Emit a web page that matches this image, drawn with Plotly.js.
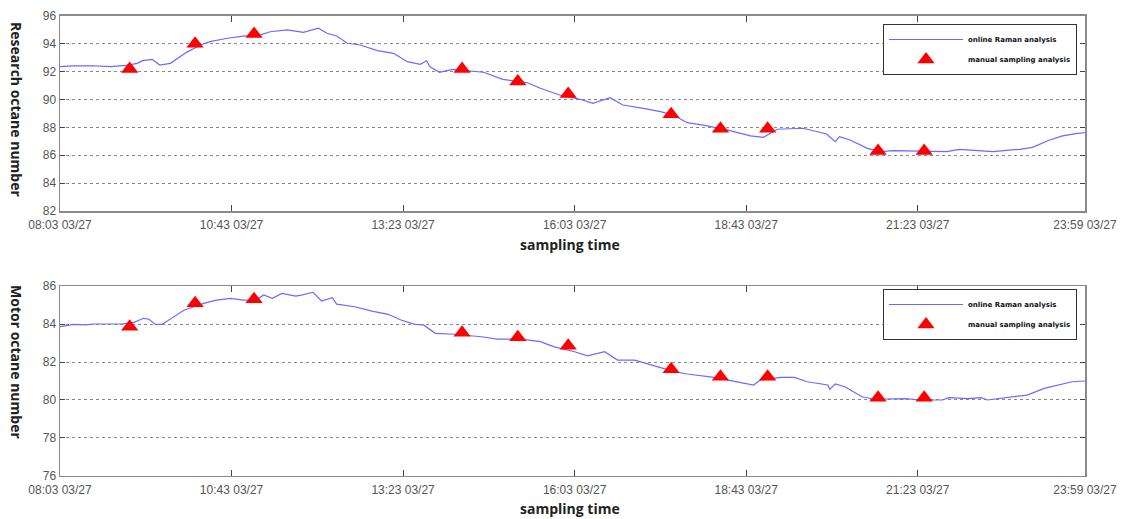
<!DOCTYPE html>
<html>
<head>
<meta charset="utf-8">
<script src="https://cdn.plot.ly/plotly-3.0.1.min.js"></script>
<style>html,body{margin:0;padding:0;background:#fff;}#chart{width:1140px;height:519px;}</style>
</head>
<body>
<div id="chart"></div>
<script>
const DAY = '2012-03-27 ';

// Online Raman analysis – research octane number
const ronTimes = ['08:03','08:15','08:34','08:50','09:05','09:15','09:20','09:29','09:36','09:46','10:01','10:14','10:23','10:39','10:54','11:10','11:19','11:35','11:50','12:04','12:12','12:21','12:31','12:43','12:59','13:14','13:27','13:39','13:45','13:48','13:57','14:09','14:19','14:38','14:56','15:19','15:31','15:49','16:08','16:20','16:36','16:48','17:07','17:23','17:35','17:48','18:03','18:25','18:47','18:59','19:12','19:36','19:58','20:06','20:10','20:20','20:36','20:48','21:00','21:32','21:50','22:02','22:18','22:33','22:58','23:10','23:26','23:38','23:52','23:59'];
const ronOnline = [92.36,92.42,92.43,92.36,92.45,92.60,92.79,92.89,92.48,92.60,93.39,93.92,94.16,94.40,94.56,94.64,94.87,95.00,94.83,95.12,94.76,94.56,94.04,93.92,93.51,93.32,92.72,92.53,92.79,92.36,91.96,92.17,92.10,91.96,91.45,91.21,90.81,90.33,90.02,89.73,90.14,89.61,89.37,89.13,88.89,88.34,88.17,87.82,87.39,87.29,87.87,87.94,87.53,86.98,87.34,87.10,86.50,86.26,86.33,86.26,86.26,86.43,86.36,86.26,86.43,86.57,87.10,87.39,87.58,87.62];

// Online Raman analysis – motor octane number
const monTimes = ['08:03','08:16','08:28','08:34','09:01','09:12','09:21','09:26','09:32','09:38','09:59','10:17','10:29','10:42','10:54','11:06','11:13','11:21','11:30','11:43','11:49','11:59','12:07','12:17','12:21','12:38','12:54','13:09','13:21','13:34','13:42','13:53','14:11','14:36','14:51','15:13','15:31','15:44','16:03','16:15','16:31','16:43','16:59','17:08','17:17','17:36','17:48','18:13','18:38','18:50','18:56','19:15','19:28','19:40','19:59','20:01','20:06','20:15','20:31','20:43','21:11','21:27','21:46','21:52','22:10','22:22','22:28','22:53','23:05','23:21','23:34','23:47','23:59'];
const monOnline = [83.86,83.98,83.95,84.00,84.00,84.09,84.30,84.25,83.98,83.98,84.74,85.09,85.26,85.35,85.26,85.26,85.53,85.35,85.61,85.47,85.53,85.67,85.21,85.39,85.05,84.91,84.68,84.51,84.21,83.98,83.95,83.51,83.46,83.33,83.20,83.20,83.07,82.80,82.54,82.32,82.54,82.10,82.10,81.96,81.79,81.49,81.37,81.19,80.91,80.79,81.05,81.19,81.19,80.96,80.79,80.56,80.84,80.70,80.17,80.04,80.07,80.00,80.00,80.12,80.07,80.12,80.00,80.17,80.26,80.61,80.79,80.96,81.00];

// Manual sampling analysis
const sampleTimes = ['09:08','10:09','11:04','14:18','15:10','15:57','17:33','18:19','19:03','20:46','21:29'];
const ronManual = [92.2,94.0,94.7,92.2,91.3,90.4,88.95,87.9,87.9,86.3,86.3];
const monManual = [83.86,85.09,85.3,83.54,83.3,82.86,81.62,81.23,81.23,80.12,80.12];

// Axis ticks
const xTickTimes = ['08:03','10:43','13:23','16:03','18:43','21:23','23:59'];
const xTickLabels = ['08:03 03/27','10:43 03/27','13:23 03/27','16:03 03/27','18:43 03/27','21:23 03/27','23:59 03/27'];
const ronTicks = [82,84,86,88,90,92,94,96];
const monTicks = [76,78,80,82,84,86];

const toDate = arr => arr.map(t => DAY + t);
const lineColor = '#6a6aff';
const legendNames = ['online Raman analysis', 'manual sampling analysis'];

const traces = [
  {x: toDate(ronTimes), y: ronOnline, type: 'scatter', mode: 'lines', name: legendNames[0],
   line: {color: lineColor, width: 1.2}, xaxis: 'x', yaxis: 'y', legend: 'legend', legendgroup: 'a1'},
  {x: toDate(sampleTimes), y: ronManual, type: 'scatter', mode: 'markers', name: legendNames[1],
   marker: {symbol: 'triangle-up', size: 15, color: '#ff0000'}, xaxis: 'x', yaxis: 'y', legend: 'legend', legendgroup: 'a2'},
  {x: toDate(monTimes), y: monOnline, type: 'scatter', mode: 'lines', name: legendNames[0],
   line: {color: lineColor, width: 1.2}, xaxis: 'x2', yaxis: 'y2', legend: 'legend2', legendgroup: 'b1'},
  {x: toDate(sampleTimes), y: monManual, type: 'scatter', mode: 'markers', name: legendNames[1],
   marker: {symbol: 'triangle-up', size: 15, color: '#ff0000'}, xaxis: 'x2', yaxis: 'y2', legend: 'legend2', legendgroup: 'b2'}
];

const tickFont = {family: 'Liberation Sans, Arial, sans-serif', size: 12, color: '#555'};
const frame = '#8a8a8a';

function xAxis(domainAnchor) {
  return {
    type: 'date', range: [DAY + '08:03', DAY + '23:59'], domain: [0, 1], anchor: domainAnchor,
    tickvals: toDate(xTickTimes), ticktext: xTickLabels, tickfont: tickFont,
    ticks: 'inside', ticklen: 6, tickcolor: '#444', tickwidth: 1.2, ticklabelstandoff: 2,
    showline: true, linecolor: frame, linewidth: 1.5, mirror: 'ticks',
    showgrid: false, zeroline: false
  };
}
function yAxis(range, ticks, domain, anchor) {
  return {
    range: range, tickvals: ticks, domain: domain, anchor: anchor, tickfont: tickFont,
    ticks: 'inside', ticklen: 5, tickcolor: '#444',
    showline: true, linecolor: frame, linewidth: 1.5, mirror: 'ticks',
    showgrid: true, gridcolor: '#888', griddash: '3px,3px', gridwidth: 1, zeroline: false
  };
}

const titleFont = {family: 'Open Sans, DejaVu Sans, sans-serif', size: 14, color: '#222', weight: 'bold'};
const legFont = {family: 'DejaVu Sans, sans-serif', size: 7, color: '#111', weight: 'bold'};

const legendStyle = {xanchor: 'right', yanchor: 'top', bgcolor: '#fff',
  bordercolor: '#333', borderwidth: 1, font: legFont, tracegroupgap: 1, itemwidth: 74};

const layout = {
  width: 1140, height: 519,
  margin: {l: 60, r: 55, t: 0, b: 0},
  paper_bgcolor: '#fff', plot_bgcolor: '#fff',
  showlegend: true,
  xaxis: xAxis('y'),
  yaxis: yAxis([82, 96], ronTicks, [0.5934, 0.9692], 'x'),
  xaxis2: xAxis('y2'),
  yaxis2: yAxis([76, 86], monTicks, [0.0829, 0.4489], 'x2'),
  legend: Object.assign({x: 0.9922, y: 0.9538}, legendStyle),
  legend2: Object.assign({x: 0.9922, y: 0.4432}, legendStyle),
  annotations: [
    {text: 'Research octane number', xref: 'paper', yref: 'paper', x: -0.042, y: 0.788,
     xanchor: 'center', yanchor: 'middle', textangle: 90, showarrow: false, font: titleFont},
    {text: 'Motor octane number', xref: 'paper', yref: 'paper', x: -0.042, y: 0.3025,
     xanchor: 'center', yanchor: 'middle', textangle: 90, showarrow: false, font: titleFont},
    {text: 'sampling time', xref: 'paper', yref: 'paper', x: 0.4976, y: 0.528,
     xanchor: 'center', yanchor: 'middle', showarrow: false, font: titleFont},
    {text: 'sampling time', xref: 'paper', yref: 'paper', x: 0.4976, y: 0.021,
     xanchor: 'center', yanchor: 'middle', showarrow: false, font: titleFont}
  ]
};

Plotly.newPlot('chart', traces, layout, {displayModeBar: false, staticPlot: true});
</script>
</body>
</html>
